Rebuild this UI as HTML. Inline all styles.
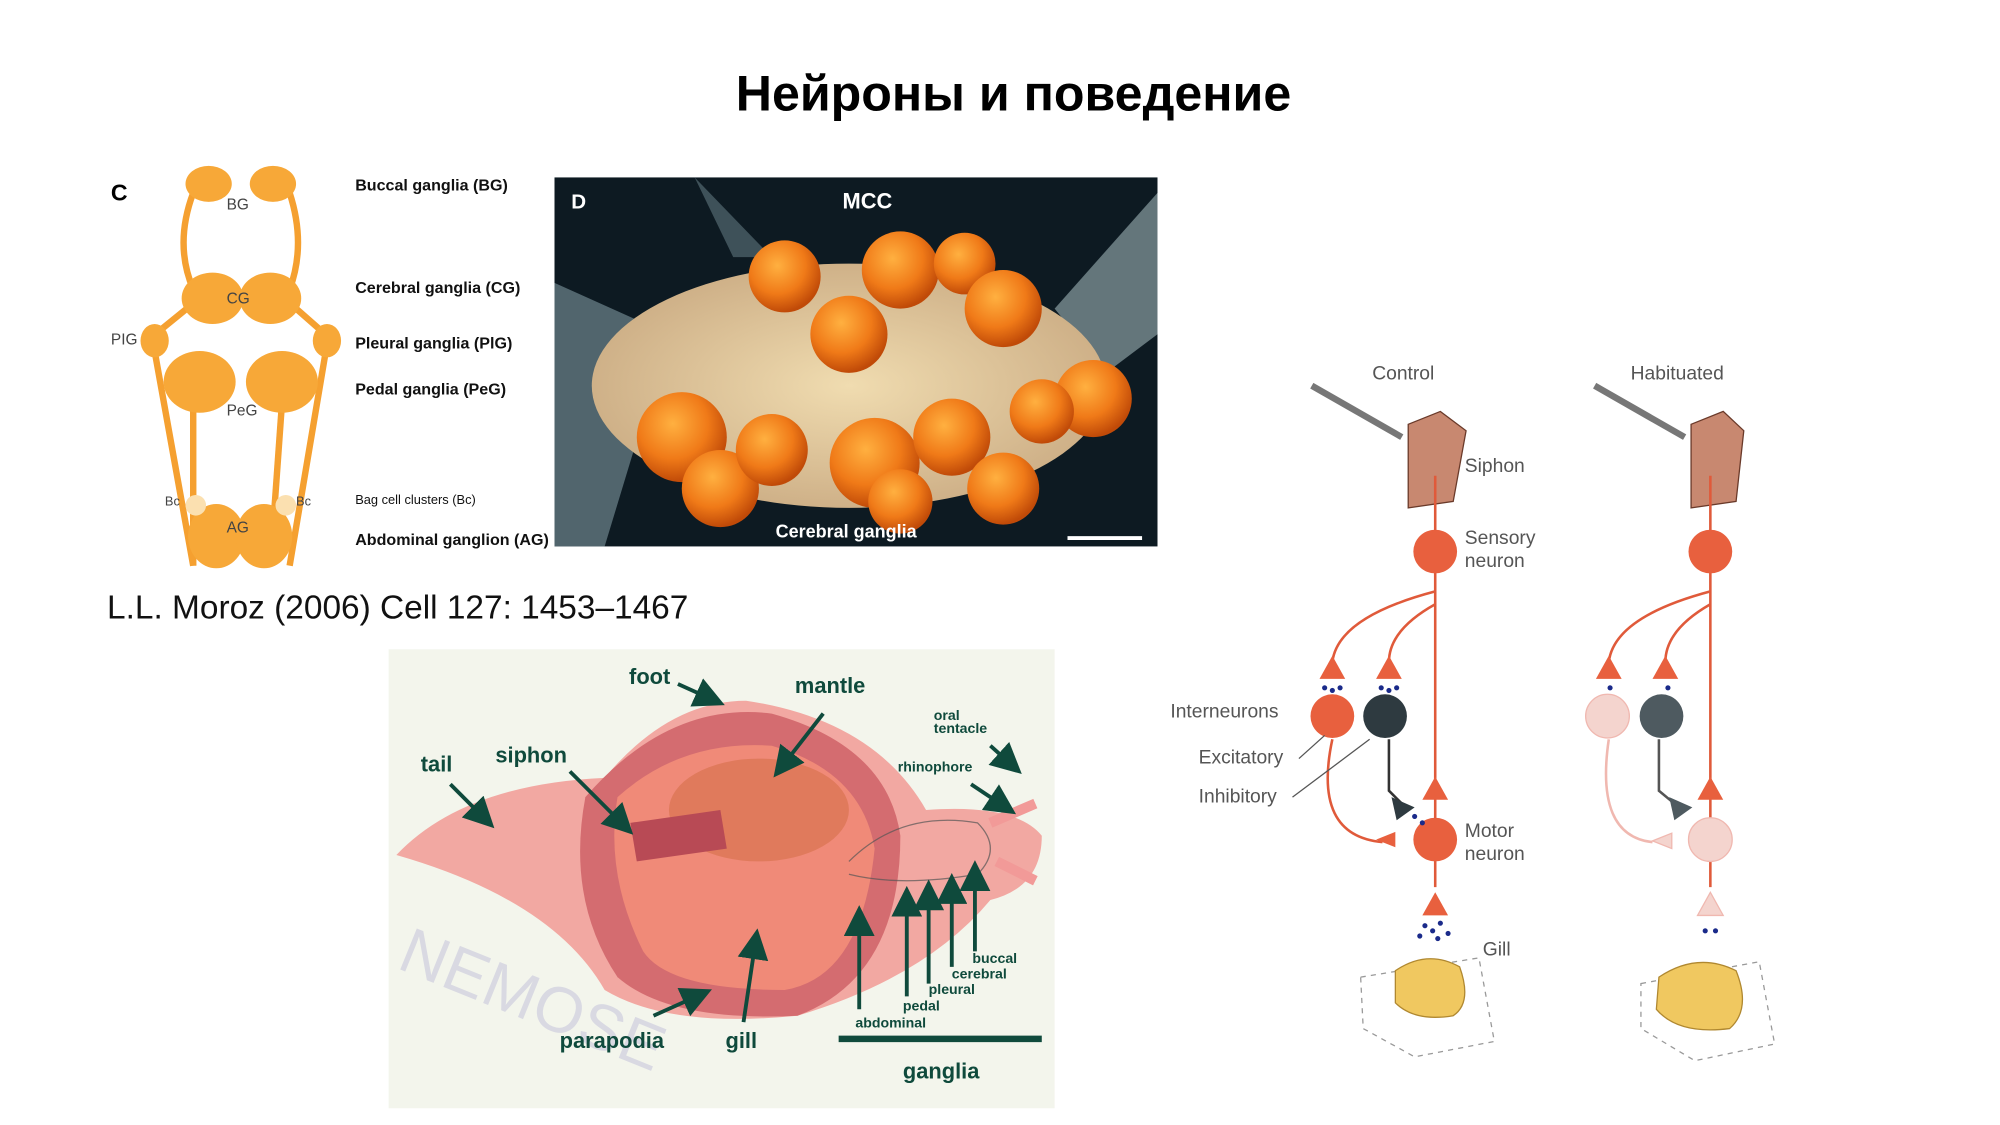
<!DOCTYPE html>
<html><head><meta charset="utf-8"><style>
html,body{margin:0;padding:0;background:#fff;width:2000px;height:1125px;overflow:hidden}
svg{display:block}
text{font-family:"Liberation Sans","DejaVu Sans",sans-serif}
</style></head><body>
<svg width="2000" height="1125" viewBox="0 0 1555 875" xmlns="http://www.w3.org/2000/svg">
<defs>
<radialGradient id="blob" cx="40%" cy="35%" r="65%"><stop offset="0" stop-color="#ffb040"/><stop offset="0.6" stop-color="#f07a18"/><stop offset="1" stop-color="#c04a08"/></radialGradient>
<radialGradient id="pale" cx="50%" cy="50%" r="60%"><stop offset="0" stop-color="#f0dcb0"/><stop offset="1" stop-color="#c8a880"/></radialGradient>
<marker id="ah" markerWidth="8" markerHeight="8" refX="6" refY="4" orient="auto"><path d="M0,0 L8,4 L0,8 z" fill="#0f4a3c"/></marker>
</defs>
<text x="788" y="86" font-size="39" font-weight="bold" text-anchor="middle" fill="#000">Нейроны и поведение</text>

<!-- Panel C -->
<text x="86" y="156" font-size="18" font-weight="bold">C</text>
<g stroke="#f5a030" stroke-width="5" fill="none">
<path d="M150,150 Q135,190 150,225"/><path d="M225,150 Q238,190 225,225"/>
<path d="M145,240 L118,262 L150,440"/><path d="M230,240 L255,262 L225,440"/>
<path d="M150,300 L150,440"/><path d="M220,300 L210,440"/>
</g>
<g fill="#f7a838">
<ellipse cx="162" cy="143" rx="18" ry="14"/><ellipse cx="212" cy="143" rx="18" ry="14"/>
<ellipse cx="165" cy="232" rx="24" ry="20"/><ellipse cx="210" cy="232" rx="24" ry="20"/>
<ellipse cx="120" cy="265" rx="11" ry="13"/><ellipse cx="254" cy="265" rx="11" ry="13"/>
<ellipse cx="155" cy="297" rx="28" ry="24"/><ellipse cx="219" cy="297" rx="28" ry="24"/>
<ellipse cx="168" cy="417" rx="22" ry="25"/><ellipse cx="205" cy="417" rx="22" ry="25"/>
</g>
<circle cx="152" cy="393" r="8" fill="#fbe0b0"/><circle cx="222" cy="393" r="8" fill="#fbe0b0"/>
<g font-size="12" fill="#444"><text x="176" y="163">BG</text><text x="176" y="236">CG</text><text x="176" y="323">PeG</text><text x="176" y="414">AG</text><text x="86" y="268">PIG</text><text x="128" y="393" font-size="10">Bc</text><text x="230" y="393" font-size="10">Bc</text></g>
<g font-size="12.5" font-weight="bold" fill="#111">
<text x="276" y="148">Buccal ganglia (BG)</text><text x="276" y="228">Cerebral ganglia (CG)</text>
<text x="276" y="271">Pleural ganglia (PlG)</text><text x="276" y="307">Pedal ganglia (PeG)</text>
<text x="276" y="392" font-size="10" font-weight="normal">Bag cell clusters (Bc)</text><text x="276" y="424">Abdominal ganglion (AG)</text></g>

<!-- Photo D -->
<rect x="431" y="138" width="469" height="287" fill="#0d1a22"/>
<path d="M431,220 L520,260 L470,425 L431,425Z" fill="#7f98a0" opacity="0.6"/>
<path d="M900,150 L820,240 L860,290 L900,260Z" fill="#9fb4b8" opacity="0.6"/>
<path d="M540,138 L600,200 L570,200Z" fill="#6f8890" opacity="0.5"/>
<ellipse cx="660" cy="300" rx="200" ry="95" fill="url(#pale)"/>
<g fill="url(#blob)">
<circle cx="610" cy="215" r="28"/><circle cx="700" cy="210" r="30"/><circle cx="750" cy="205" r="24"/><circle cx="780" cy="240" r="30"/>
<circle cx="660" cy="260" r="30"/><circle cx="530" cy="340" r="35"/><circle cx="560" cy="380" r="30"/><circle cx="600" cy="350" r="28"/>
<circle cx="680" cy="360" r="35"/><circle cx="740" cy="340" r="30"/><circle cx="780" cy="380" r="28"/><circle cx="850" cy="310" r="30"/><circle cx="700" cy="390" r="25"/><circle cx="810" cy="320" r="25"/>
</g>
<text x="444" y="162" font-size="16" font-weight="bold" fill="#fff">D</text>
<text x="655" y="162" font-size="17" font-weight="bold" fill="#fff">MCC</text>
<text x="603" y="418" font-size="14" font-weight="bold" fill="#fff">Cerebral ganglia</text>
<rect x="830" y="417" width="58" height="3" fill="#fff"/>

<text x="83" y="481" font-size="26" fill="#111">L.L. Moroz (2006) Cell 127: 1453–1467</text>

<!-- Aplysia -->
<rect x="302" y="505" width="518" height="357" fill="#f3f5ec"/>
<path d="M308,665 Q360,610 470,605 Q520,545 580,545 Q680,560 720,630 Q790,625 810,650 Q810,690 770,700 Q720,760 620,790 Q520,800 470,770 Q430,700 308,665Z" fill="#f2a8a2"/>
<path d="M455,620 Q520,545 600,555 Q690,580 700,650 Q700,760 620,790 Q520,795 480,760 Q440,700 455,620Z" fill="#d46c70"/>
<path d="M480,620 Q530,575 600,580 Q670,600 680,660 Q670,760 610,770 Q520,770 500,740 Q470,680 480,620Z" fill="#f08a78"/>
<ellipse cx="590" cy="630" rx="70" ry="40" fill="#e07a5c"/>
<path d="M490,640 L560,630 L565,660 L495,670Z" fill="#b84a55"/>
<g stroke="#555" stroke-width="1" fill="none" opacity="0.7"><path d="M660,670 Q700,630 760,640 Q780,660 760,680 Q700,690 660,680"/></g>
<path d="M770,640 L805,625 M775,670 L805,685" stroke="#f29a98" stroke-width="8"/>
<text x="300" y="790" font-size="50" fill="#c8c8dc" font-family="Liberation Serif,serif" transform="rotate(22 400 790)" opacity="0.6">NEMOSE</text>
<g font-size="17" fill="#0f4a3c" font-weight="bold">
<text x="489" y="532">foot</text><text x="618" y="539">mantle</text><text x="327" y="600">tail</text><text x="385" y="593">siphon</text>
<text x="435" y="815">parapodia</text><text x="564" y="815">gill</text><text x="702" y="839">ganglia</text></g>
<g font-size="11" fill="#0f4a3c" font-weight="bold">
<text x="726" y="560">oral</text><text x="726" y="570">tentacle</text><text x="698" y="600">rhinophore</text>
<text x="756" y="749">buccal</text><text x="740" y="761">cerebral</text><text x="722" y="773">pleural</text><text x="702" y="786">pedal</text><text x="665" y="799">abdominal</text></g>
<g stroke="#0f4a3c" stroke-width="3" marker-end="url(#ah)" fill="none">
<path d="M527,532 L558,546"/><path d="M640,555 L605,600"/><path d="M350,610 L380,640"/><path d="M443,600 L488,645"/>
<path d="M508,790 L548,772"/><path d="M578,795 L588,728"/><path d="M770,580 L790,598"/><path d="M755,610 L785,630"/>
<path d="M668,785 L668,710"/><path d="M705,775 L705,695"/><path d="M722,765 L722,690"/><path d="M740,752 L740,685"/><path d="M758,740 L758,675"/></g>
<path d="M652,808 L810,808" stroke="#0f4a3c" stroke-width="5"/>

<!-- Right diagram -->
<g font-size="15" fill="#555">
<text x="1067" y="295">Control</text><text x="1268" y="295">Habituated</text>
<text x="1139" y="367">Siphon</text><text x="1139" y="423">Sensory</text><text x="1139" y="441">neuron</text>
<text x="910" y="558">Interneurons</text><text x="932" y="594">Excitatory</text><text x="932" y="624">Inhibitory</text>
<text x="1139" y="651">Motor</text><text x="1139" y="669">neuron</text><text x="1153" y="743">Gill</text></g>
<g stroke="#777" stroke-width="5"><line x1="1020" y1="300" x2="1090" y2="340"/><line x1="1240" y1="300" x2="1310" y2="340"/></g>
<path d="M1095,330 L1120,320 L1140,335 L1130,390 L1095,395Z" fill="#c88870" stroke="#6a3a2a"/>
<path d="M1315,330 L1340,320 L1356,335 L1350,390 L1315,395Z" fill="#c88870" stroke="#6a3a2a"/>
<g stroke="#e05a3a" stroke-width="2" fill="none">
<path d="M1116,370 L1116,690"/><path d="M1116,460 Q1040,480 1036,515"/><path d="M1116,470 Q1080,490 1080,515"/>
<path d="M1036,575 Q1020,650 1075,655"/>
<path d="M1330,370 L1330,690"/><path d="M1330,460 Q1255,480 1251,515"/><path d="M1330,470 Q1295,490 1295,515"/>
</g>
<path d="M1080,575 L1080,615 L1090,625" stroke="#333" stroke-width="2" fill="none"/>
<path d="M1290,575 L1290,615 L1302,625" stroke="#555" stroke-width="2" fill="none"/>
<path d="M1251,575 Q1240,650 1285,655" stroke="#f0b8b0" stroke-width="2" fill="none"/>
<g fill="#e8603e">
<circle cx="1116" cy="429" r="17"/><circle cx="1036" cy="557" r="17"/><circle cx="1116" cy="653" r="17"/>
<path d="M1026,528 L1046,528 L1036,510Z"/><path d="M1070,528 L1090,528 L1080,510Z"/><path d="M1106,622 L1126,622 L1116,604Z"/><path d="M1106,712 L1126,712 L1116,694Z"/><path d="M1085,653 L1085,665 L1070,659Z" transform="translate(0,-6)"/>
<circle cx="1330" cy="429" r="17"/><path d="M1320,622 L1340,622 L1330,604Z"/><path d="M1241,528 L1261,528 L1251,510Z"/><path d="M1285,528 L1305,528 L1295,510Z"/>
</g>
<circle cx="1077" cy="557" r="17" fill="#2e3a40"/><path d="M1082,620 L1100,628 L1086,638Z" fill="#2e3a40"/>
<circle cx="1292" cy="557" r="17" fill="#4e5a60"/><path d="M1298,620 L1316,628 L1302,638Z" fill="#4e5a60"/>
<g fill="#f4d4ce" stroke="#f0b8b0"><circle cx="1250" cy="557" r="17"/><circle cx="1330" cy="653" r="17"/><path d="M1320,712 L1340,712 L1330,694Z"/><path d="M1300,648 L1300,660 L1285,654Z"/></g>
<g fill="#1a2a8a"><circle cx="1030" cy="535" r="2"/><circle cx="1036" cy="537" r="2"/><circle cx="1042" cy="535" r="2"/><circle cx="1074" cy="535" r="2"/><circle cx="1080" cy="537" r="2"/><circle cx="1086" cy="535" r="2"/>
<circle cx="1108" cy="720" r="2"/><circle cx="1114" cy="724" r="2"/><circle cx="1120" cy="718" r="2"/><circle cx="1126" cy="726" r="2"/><circle cx="1104" cy="728" r="2"/><circle cx="1118" cy="730" r="2"/>
<circle cx="1252" cy="535" r="2"/><circle cx="1297" cy="535" r="2"/><circle cx="1326" cy="724" r="2"/><circle cx="1334" cy="724" r="2"/><circle cx="1100" cy="635" r="2"/><circle cx="1106" cy="640" r="2"/></g>
<path d="M1058,760 L1150,745 L1162,810 L1100,822 L1060,800Z" fill="none" stroke="#999" stroke-dasharray="4,4"/>
<path d="M1276,765 L1368,748 L1380,812 L1318,825 L1276,800Z" fill="none" stroke="#999" stroke-dasharray="4,4"/>
<path d="M1085,755 Q1110,738 1135,752 Q1145,780 1130,790 Q1100,795 1085,780Z" fill="#f0c860" stroke="#b08830"/>
<path d="M1290,760 Q1320,740 1350,755 Q1362,785 1345,800 Q1305,805 1288,785Z" fill="#f0c860" stroke="#b08830"/>
<g stroke="#555" stroke-width="1"><line x1="1010" y1="590" x2="1030" y2="572"/><line x1="1005" y1="620" x2="1065" y2="575"/></g>
</svg>
</body></html>
